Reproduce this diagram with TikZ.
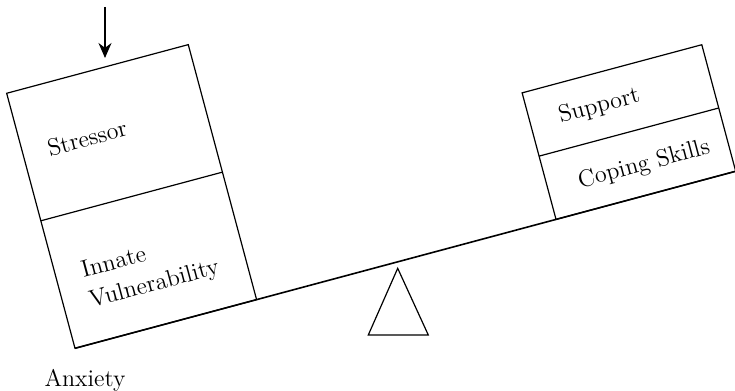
\documentclass[tikz,border=0pt]{standalone}
\usetikzlibrary{arrows.meta}
\begin{document}
\begin{tikzpicture}[x=0.5pt, y=0.5pt, line width=0.6pt,
  >={Stealth[length=7.5pt, width=6.5pt]},
  boxtext/.style={font=\fontsize{12pt}{15.5pt}\selectfont, anchor=west, align=left, inner sep=0pt, rotate=15}]
  \useasboundingbox (0,0) rectangle (735,391);

  \coordinate (O) at (75,42.7);
  \begin{scope}[shift={(O)}, rotate=15]
    \draw[line width=0.8pt] (0,0) coordinate (beamL) -- (684,0) coordinate (beamR);
    \draw (0,0) rectangle (188,264);
    \draw (0,132) -- (188,132);
    \draw (498,0) rectangle (684,131);
    \draw (498,65.5) -- (684,65.5);
    \coordinate (lefttop) at (112,264);

    \node[boxtext] (stressor) at (25,200) {Stressor};
    \node[boxtext] (innate) at (26,56) {Innate\\Vulnerability};
    \node[boxtext] (support) at (527,98) {Support};
    \node[boxtext] (coping) at (529,30) {Coping Skills};
  \end{scope}

  \draw (368.3,56) -- (397.7,122.7) -- (428.3,56) -- cycle;

  \coordinate (push) at (105,384);
  \coordinate (pushend) at (105,333);
  \draw[->] (push) -- (pushend);

  \node[font=\fontsize{12pt}{14pt}\selectfont, anchor=base, inner sep=0pt] (anxiety) at (85,4.3) {Anxiety};
\end{tikzpicture}
\end{document}
